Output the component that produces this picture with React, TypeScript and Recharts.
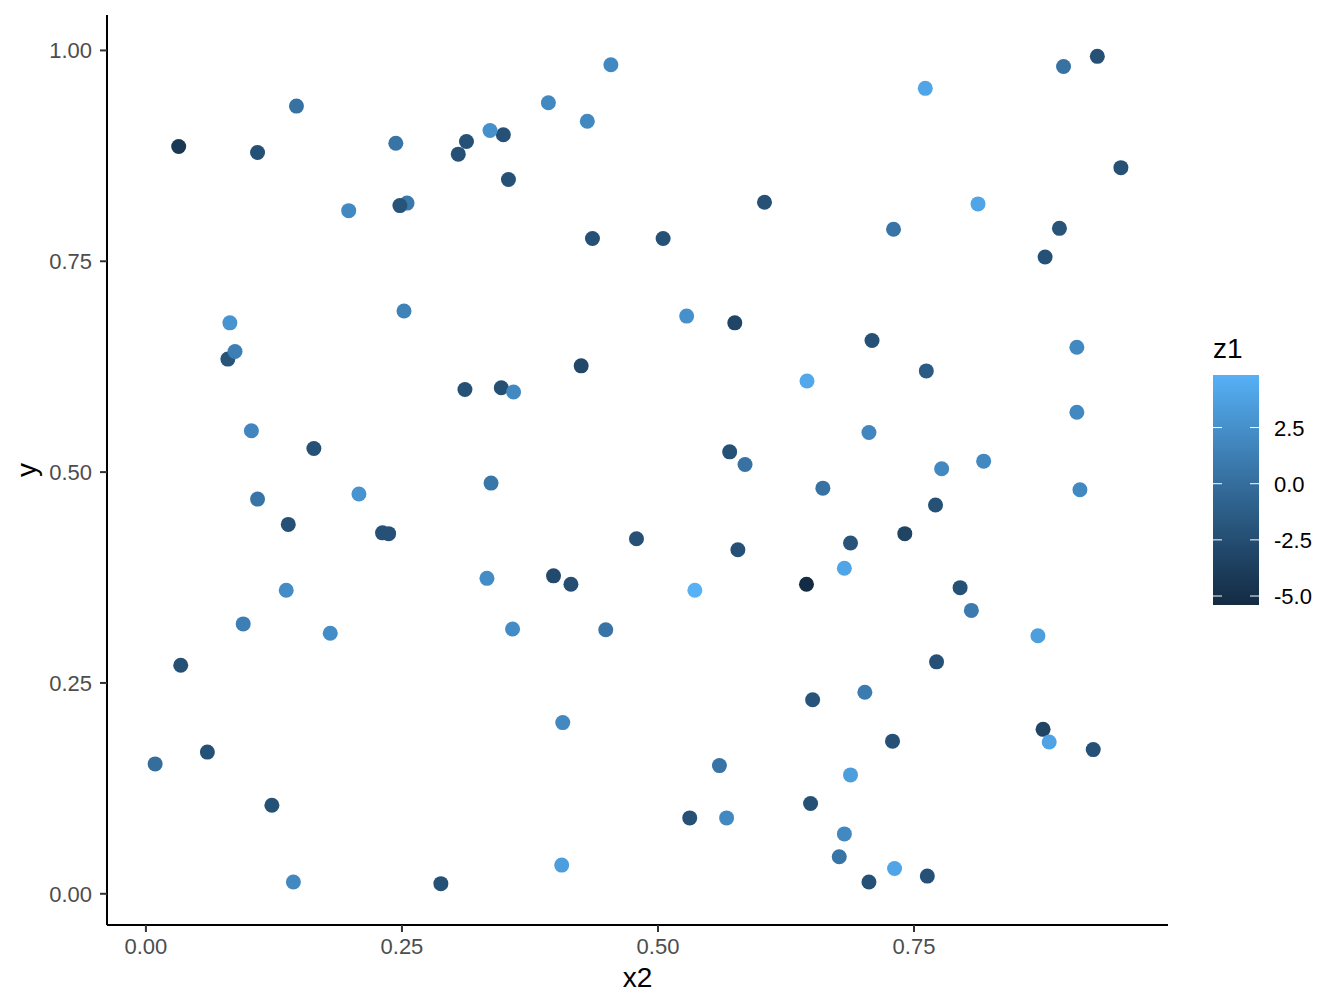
import { ScatterChart, Scatter, XAxis, YAxis } from 'recharts';

// values
const x2 = [
  0.032, 0.147, 0.109, 0.244, 0.305, 0.313, 0.349, 0.336, 0.354, 0.393,
  0.431, 0.454, 0.198, 0.255, 0.248, 0.436, 0.505, 0.604, 0.761, 0.896,
  0.929, 0.952, 0.8125, 0.730, 0.892, 0.878, 0.082, 0.080, 0.087, 0.252,
  0.528, 0.575, 0.709, 0.909, 0.762, 0.6455, 0.425, 0.3115, 0.347, 0.359,
  0.909, 0.103, 0.164, 0.706, 0.570, 0.585, 0.777, 0.818, 0.109, 0.208,
  0.337, 0.661, 0.912, 0.771, 0.139, 0.231, 0.237, 0.479, 0.578, 0.741,
  0.688, 0.682, 0.398, 0.415, 0.333, 0.536, 0.645, 0.795, 0.137, 0.806,
  0.095, 0.180, 0.358, 0.449, 0.871, 0.034, 0.772, 0.702, 0.651, 0.407,
  0.876, 0.882, 0.925, 0.729, 0.060, 0.009, 0.560, 0.688, 0.123, 0.649,
  0.531, 0.567, 0.682, 0.677, 0.406, 0.731, 0.763, 0.706, 0.144, 0.288,
];
const y = [
  0.886, 0.934, 0.879, 0.890, 0.877, 0.892, 0.900, 0.905, 0.847, 0.938,
  0.916, 0.983, 0.810, 0.819, 0.816, 0.777, 0.777, 0.820, 0.955, 0.981,
  0.993, 0.861, 0.818, 0.788, 0.789, 0.755, 0.677, 0.634, 0.643, 0.691,
  0.685, 0.677, 0.656, 0.648, 0.620, 0.608, 0.626, 0.598, 0.600, 0.595,
  0.571, 0.549, 0.528, 0.547, 0.524, 0.509, 0.504, 0.513, 0.468, 0.474,
  0.487, 0.481, 0.479, 0.461, 0.438, 0.428, 0.427, 0.421, 0.408, 0.427,
  0.416, 0.386, 0.377, 0.367, 0.374, 0.360, 0.367, 0.363, 0.360, 0.336,
  0.320, 0.309, 0.314, 0.313, 0.306, 0.271, 0.275, 0.239, 0.230, 0.203,
  0.195, 0.180, 0.171, 0.181, 0.168, 0.154, 0.152, 0.141, 0.105, 0.107,
  0.090, 0.090, 0.071, 0.044, 0.034, 0.030, 0.021, 0.014, 0.014, 0.012,
];
const z1 = [
  -4.3, 0.3, -2.2, 0.5, -2.2, -2.2, -2.3, 2.5, -2.2, 2.0,
  2.0, 2.0, 2.0, 0.8, -2.0, -2.2, -2.2, -2.3, 4.0, 0.3,
  -2.3, -2.3, 4.0, 0.5, -2.0, -2.2, 2.8, -2.0, 1.3, 1.5,
  2.6, -3.2, -2.2, 2.0, -1.5, 4.2, -3.0, -2.2, -2.4, 2.0,
  2.0, 1.8, -2.2, 1.8, -2.2, 0.3, 2.0, 2.0, 0.5, 2.8,
  0.7, 0.3, 2.0, -2.2, -2.2, -2.2, -2.3, -2.3, -2.2, -3.3,
  -2.0, 4.0, -2.8, -2.5, 2.2, 4.84, -5.4, -2.2, 2.2, 1.0,
  1.3, 2.2, 2.2, 0.5, 3.5, -2.2, -2.2, 1.0, -2.0, 2.0,
  -3.3, 3.8, -2.2, -2.3, -2.2, 0.0, 0.5, 3.5, -2.2, -2.2,
  -2.3, 2.0, 2.0, 0.5, 3.5, 4.0, -2.2, -2.2, 2.0, -2.2,
];

const xTicks = [0, 0.25, 0.5, 0.75];
const yTicks = [0, 0.25, 0.5, 0.75, 1];
const legendTicks = [-5, -2.5, 0, 2.5];

const points = x2.map((x, i) => ({ x, y: y[i], z: z1[i] }));
const zMin = Math.min(...z1);
const zMax = Math.max(...z1);

// ggplot's default gradient (#132B43 -> #56B1F7), interpolated in Lab
const toLin = (c: number) => (c <= 0.04045 ? c / 12.92 : Math.pow((c + 0.055) / 1.055, 2.4));
const fromLin = (c: number) => (c <= 0.0031308 ? 12.92 * c : 1.055 * Math.pow(c, 1 / 2.4) - 0.055);
const WHITE = [0.95047, 1, 1.08883];

function hexToLab(hex: string) {
  const r = toLin(parseInt(hex.slice(1, 3), 16) / 255);
  const g = toLin(parseInt(hex.slice(3, 5), 16) / 255);
  const b = toLin(parseInt(hex.slice(5, 7), 16) / 255);
  const X = (0.4124 * r + 0.3576 * g + 0.1805 * b) / WHITE[0];
  const Y = (0.2126 * r + 0.7152 * g + 0.0722 * b) / WHITE[1];
  const Z = (0.0193 * r + 0.1192 * g + 0.9505 * b) / WHITE[2];
  const f = (t: number) => (t > 216 / 24389 ? Math.cbrt(t) : (24389 / 27 * t + 16) / 116);
  const fx = f(X), fy = f(Y), fz = f(Z);
  return [116 * fy - 16, 500 * (fx - fy), 200 * (fy - fz)];
}

function labToHex([L, a, bb]: number[]) {
  const fy = (L + 16) / 116;
  const fx = fy + a / 500;
  const fz = fy - bb / 200;
  const inv = (t: number) => (t * t * t > 216 / 24389 ? t * t * t : (116 * t - 16) / (24389 / 27));
  const X = inv(fx) * WHITE[0], Y = inv(fy) * WHITE[1], Z = inv(fz) * WHITE[2];
  const r = 3.2406 * X - 1.5372 * Y - 0.4986 * Z;
  const g = -0.9689 * X + 1.8758 * Y + 0.0415 * Z;
  const b = 0.0557 * X - 0.204 * Y + 1.057 * Z;
  const h = (c: number) => Math.round(Math.min(1, Math.max(0, fromLin(c))) * 255).toString(16).padStart(2, '0');
  return `#${h(r)}${h(g)}${h(b)}`;
}

const LOW = hexToLab('#132B43');
const HIGH = hexToLab('#56B1F7');
const colourAt = (t: number) => labToHex(LOW.map((v, i) => v + (HIGH[i] - v) * t));
const colourFor = (z: number) => colourAt((z - zMin) / (zMax - zMin));

const FONT = '"Liberation Sans", Arial, sans-serif';

const Dot = (props: any) => (
  <circle cx={props.cx} cy={props.cy} r={7.5} fill={colourFor(props.payload.z)} />
);

// colourbar geometry
const BAR = { x: 1213, y: 375, w: 46, h: 230 };
const barY = (v: number) => BAR.y + BAR.h - ((v - zMin) / (zMax - zMin)) * BAR.h;

export default function App() {
  const stops = Array.from({ length: 21 }, (_, i) => i / 20);
  return (
    <div style={{ position: 'absolute', left: 0, top: 0, width: 1344, height: 1008, background: '#fff', fontFamily: FONT }}>
      <ScatterChart width={1344} height={1008} margin={{ top: 15, right: 176, bottom: 0, left: 0 }}>
        <XAxis
          dataKey="x"
          type="number"
          domain={[-0.038, 0.998]}
          ticks={xTicks}
          allowDataOverflow
          height={83}
          tickFormatter={(v) => v.toFixed(2)}
          tick={{ fill: '#4D4D4D', fontSize: 22, fontFamily: FONT }}
          tickSize={7}
          tickMargin={6}
          axisLine={{ stroke: '#000', strokeWidth: 2 }}
          tickLine={{ stroke: '#333', strokeWidth: 2 }}
        />
        <YAxis
          dataKey="y"
          type="number"
          domain={[-0.037, 1.042]}
          ticks={yTicks}
          allowDataOverflow
          width={107}
          tickFormatter={(v) => v.toFixed(2)}
          tick={{ fill: '#4D4D4D', fontSize: 22, fontFamily: FONT }}
          tickSize={7}
          tickMargin={8}
          axisLine={{ stroke: '#000', strokeWidth: 2 }}
          tickLine={{ stroke: '#333', strokeWidth: 2 }}
        />
        <Scatter data={points} dataKey="y" shape={Dot} isAnimationActive={false} />
      </ScatterChart>
      <svg width={1344} height={1008} style={{ position: 'absolute', left: 0, top: 0, pointerEvents: 'none' }}>
        <defs>
          <linearGradient id="z1grad" x1="0" y1="1" x2="0" y2="0">
            {stops.map((t) => (
              <stop key={t} offset={t} stopColor={colourAt(t)} />
            ))}
          </linearGradient>
        </defs>
        <text x={637.5} y={987} textAnchor="middle" fontSize={28} fontFamily={FONT} fill="#000">x2</text>
        <text x={36} y={470} textAnchor="middle" fontSize={28} fontFamily={FONT} fill="#000" transform="rotate(-90, 36, 470)">y</text>
        <text x={BAR.x} y={358} fontSize={28} fontFamily={FONT} fill="#000">z1</text>
        <rect x={BAR.x} y={BAR.y} width={BAR.w} height={BAR.h} fill="url(#z1grad)" />
        {legendTicks.map((v) => (
          <g key={v}>
            <line x1={BAR.x} x2={BAR.x + 9} y1={barY(v)} y2={barY(v)} stroke="#fff" strokeWidth={1} />
            <line x1={BAR.x + BAR.w - 9} x2={BAR.x + BAR.w} y1={barY(v)} y2={barY(v)} stroke="#fff" strokeWidth={1} />
            <text x={1274} y={barY(v) + 8} fontSize={22} fontFamily={FONT} fill="#000">{v.toFixed(1)}</text>
          </g>
        ))}
      </svg>
    </div>
  );
}
